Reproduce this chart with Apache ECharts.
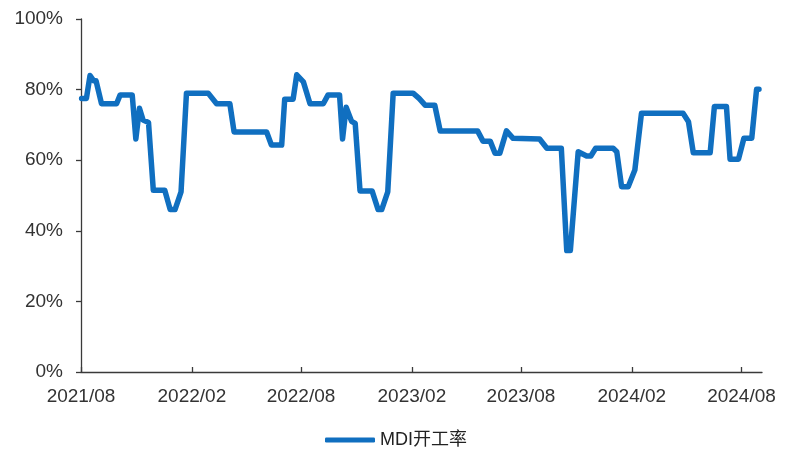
<!DOCTYPE html>
<html>
<head>
<meta charset="utf-8">
<script src="https://cdn.jsdelivr.net/npm/echarts@6/dist/echarts.min.js"></script>
<style>
  html, body { margin: 0; padding: 0; background: #fff; }
  #chart { width: 785px; height: 450px; }
</style>
</head>
<body>
<div id="chart"></div>
<script>
// MDI operating rate (%), breakpoints of the weekly series
const dates = [
  '2021-08-02', '2021-08-10', '2021-08-16', '2021-08-22', '2021-08-26', '2021-09-04', '2021-09-29',
  '2021-10-05', '2021-10-25', '2021-10-31', '2021-11-06', '2021-11-12', '2021-11-21', '2021-11-29',
  '2021-12-18', '2021-12-27', '2022-01-04', '2022-01-14', '2022-01-17', '2022-01-23', '2022-02-28',
  '2022-03-14', '2022-04-05', '2022-04-12', '2022-06-05', '2022-06-13', '2022-06-30', '2022-07-05',
  '2022-07-19', '2022-07-25', '2022-08-05', '2022-08-08', '2022-08-16', '2022-09-07', '2022-09-15',
  '2022-10-04', '2022-10-09', '2022-10-15', '2022-10-24', '2022-10-30', '2022-11-07', '2022-11-27',
  '2022-12-07', '2022-12-13', '2022-12-23', '2022-12-25', '2023-01-01', '2023-02-03', '2023-02-13',
  '2023-02-23', '2023-03-11', '2023-03-20', '2023-05-21', '2023-05-30', '2023-06-11', '2023-06-19',
  '2023-06-27', '2023-07-08', '2023-07-19', '2023-09-01', '2023-09-13', '2023-10-07', '2023-10-16',
  '2023-10-22', '2023-11-04', '2023-11-18', '2023-11-25', '2023-12-03', '2024-01-01', '2024-01-07',
  '2024-01-15', '2024-01-26', '2024-02-06', '2024-02-09', '2024-02-17', '2024-04-26', '2024-05-05',
  '2024-05-13', '2024-06-10', '2024-06-17', '2024-07-07', '2024-07-13', '2024-07-27', '2024-08-05',
  '2024-08-18', '2024-08-26', '2024-08-30'
];
const mdiRate = [
  77.5, 77.5, 84.0, 82.5, 82.5, 76.0, 76.0,
  78.5, 78.5, 66.0, 74.7, 71.4, 70.7, 51.5,
  51.5, 46.0, 46.0, 51.0, 51.0, 79.0, 79.0,
  76.0, 76.0, 68.0, 68.0, 64.3, 64.3, 77.3,
  77.3, 84.2, 82.2, 82.0, 76.0, 76.0, 78.5,
  78.5, 66.0, 75.0, 71.0, 70.4, 51.3, 51.3,
  46.0, 46.0, 51.0, 51.0, 79.0, 79.0, 77.5,
  75.6, 75.6, 68.3, 68.3, 65.4, 65.4, 62.0,
  62.0, 68.3, 66.2, 66.0, 63.4, 63.4, 34.4,
  34.4, 62.4, 61.2, 61.2, 63.4, 63.4, 62.4,
  52.5, 52.5, 57.2, 57.5, 73.3, 73.3, 70.9,
  62.1, 62.1, 75.2, 75.2, 60.3, 60.3, 66.2,
  66.2, 80.1, 80.1
];
// x-axis tick labels (half-yearly)
const tickLabels = ['2021/08', '2022/02', '2022/08', '2023/02', '2023/08', '2024/02', '2024/08'];
// y-axis range in percent
const yMin = 0, yMax = 100, yStep = 20;

const DAY = 86400000;
const toTime = s => {
  const [y, m] = s.split('/').map(Number);
  return Date.UTC(y, m - 1, 1);
};
const tickTimes = tickLabels.map(toTime);
const seriesData = dates.map((d, i) => [Date.parse(d + 'T00:00:00Z'), mdiRate[i]]);

const textColor = '#333';
const axisColor = '#3a3a3a';
const fontFamily = '"Liberation Sans", Arial, "Noto Sans CJK SC", sans-serif';

const chart = echarts.init(document.getElementById('chart'), null, { renderer: 'canvas' });
chart.setOption({
  animation: false,
  backgroundColor: '#fff',
  grid: { left: 81, right: 23, top: 19, bottom: 78, containLabel: false },
  xAxis: {
    // dates as epoch milliseconds on a linear axis, ticks at half-year marks
    type: 'value',
    min: Date.UTC(2021, 7, 1),
    max: Date.UTC(2024, 8, 4),
    axisLine: { show: true, lineStyle: { color: axisColor, width: 1.3 } },
    axisTick: {
      show: true, inside: true, length: 5,
      customValues: tickTimes,
      lineStyle: { color: axisColor, width: 1.3 }
    },
    axisLabel: {
      customValues: tickTimes,
      margin: 15,
      color: textColor,
      fontSize: 19,
      fontFamily: fontFamily,
      formatter: v => {
        let best = 0;
        tickTimes.forEach((t, i) => {
          if (Math.abs(t - v) < Math.abs(tickTimes[best] - v)) best = i;
        });
        return Math.abs(tickTimes[best] - v) < DAY ? tickLabels[best] : '';
      }
    },
    splitLine: { show: false }
  },
  yAxis: {
    type: 'value',
    min: yMin, max: yMax, interval: yStep,
    axisLine: { show: true, lineStyle: { color: axisColor, width: 1.3 } },
    axisTick: { show: true, inside: false, length: 5, lineStyle: { color: axisColor, width: 1.3 } },
    axisLabel: {
      margin: 18,
      color: textColor,
      fontSize: 19,
      fontFamily: fontFamily,
      formatter: '{value}%'
    },
    splitLine: { show: false }
  },
  legend: {
    left: 320,
    top: 426,
    icon: 'roundRect',
    itemWidth: 50,
    itemHeight: 5,
    itemGap: 10,
    textStyle: { color: '#222', fontSize: 18, fontFamily: fontFamily },
    data: ['MDI开工率']
  },
  series: [{
    name: 'MDI开工率',
    type: 'line',
    data: seriesData,
    showSymbol: false,
    symbol: 'none',
    lineStyle: { color: '#106fc0', width: 5.5, join: 'round', cap: 'round' },
    itemStyle: { color: '#106fc0' }
  }]
});
</script>
</body>
</html>
